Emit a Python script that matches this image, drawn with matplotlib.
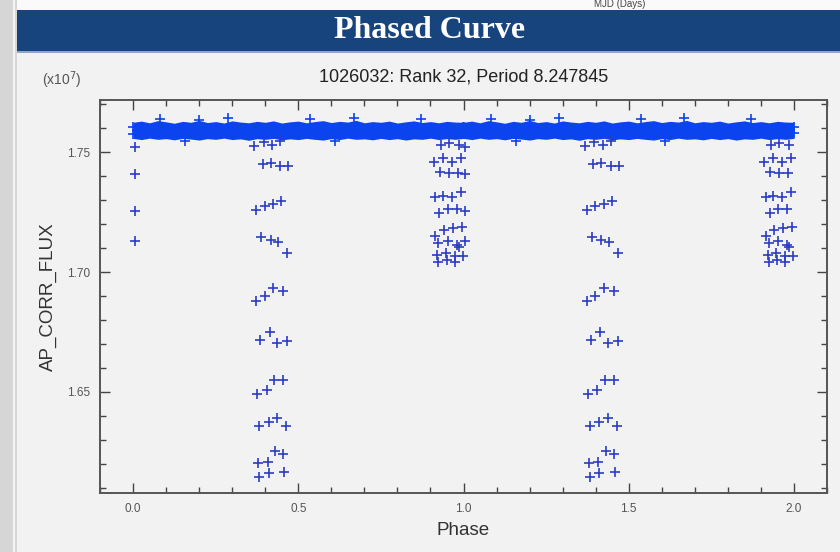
import matplotlib
matplotlib.use("Agg")

import matplotlib.pyplot as plt
from matplotlib.patches import Rectangle
from matplotlib.ticker import MultipleLocator, FormatStrFormatter

# flujo en unidades de 1e7, fase de un ciclo [0, 1) -> se dibuja dos veces
eclipse1_phase = [0.367, 0.395, 0.422, 0.446,
                  0.392, 0.416, 0.446, 0.470,
                  0.373, 0.398, 0.425, 0.449,
                  0.388, 0.416, 0.440, 0.467,
                  0.373, 0.398, 0.425, 0.455,
                  0.385, 0.413, 0.437, 0.467,
                  0.376, 0.404, 0.428, 0.455,
                  0.382, 0.410, 0.437, 0.464,
                  0.431, 0.455, 0.379, 0.407,
                  0.382, 0.410, 0.458]
eclipse1_flux = [1.7525, 1.7542, 1.7529, 1.7546,
                 1.7450, 1.7454, 1.7442, 1.7442,
                 1.7258, 1.7275, 1.7283, 1.7296,
                 1.7146, 1.7133, 1.7125, 1.7079,
                 1.6879, 1.6900, 1.6933, 1.6921,
                 1.6717, 1.6750, 1.6704, 1.6713,
                 1.6492, 1.6508, 1.6550, 1.6550,
                 1.6358, 1.6375, 1.6392, 1.6358,
                 1.6254, 1.6242, 1.6204, 1.6208,
                 1.6146, 1.6163, 1.6167]

eclipse2_phase = [0.932, 0.956, 0.986,
                  0.910, 0.938, 0.965, 0.992,
                  0.929, 0.956, 0.983,
                  0.914, 0.938, 0.965, 0.992,
                  0.926, 0.953, 0.980,
                  0.914, 0.941, 0.968, 0.995,
                  0.923, 0.953, 0.980,
                  0.920, 0.947, 0.974, 0.998, 0.986,
                  0.923, 0.950, 0.974,
                  0.006, 0.006, 0.006, 0.006]
eclipse2_flux = [1.7529, 1.7538, 1.7529,
                 1.7458, 1.7475, 1.7458, 1.7475,
                 1.7417, 1.7413, 1.7413,
                 1.7313, 1.7317, 1.7313, 1.7333,
                 1.7246, 1.7263, 1.7263,
                 1.7150, 1.7175, 1.7183, 1.7188,
                 1.7121, 1.7129, 1.7113,
                 1.7071, 1.7079, 1.7067, 1.7067, 1.7104,
                 1.7042, 1.7050, 1.7042,
                 1.7521, 1.7408, 1.7254, 1.7129]

# banda de puntos fuera de eclipse (envolvente)
band_phase = [0.0, 0.025, 0.05, 0.075, 0.10, 0.125, 0.15, 0.175, 0.20, 0.225,
              0.25, 0.275, 0.30, 0.325, 0.35, 0.375, 0.40, 0.425, 0.45, 0.475,
              0.50, 0.525, 0.55, 0.575, 0.60, 0.625, 0.65, 0.675, 0.70, 0.725,
              0.75, 0.775, 0.80, 0.825, 0.85, 0.875, 0.90, 0.925, 0.95, 0.975, 1.0]
band_hi = [1.7624, 1.7629, 1.7622, 1.7631, 1.7626, 1.7620, 1.7628, 1.7624, 1.7632, 1.7623,
           1.7627, 1.7621, 1.7630, 1.7625, 1.7622, 1.7628, 1.7624, 1.7630, 1.7621, 1.7626,
           1.7629, 1.7622, 1.7627, 1.7631, 1.7623, 1.7628, 1.7625, 1.7632, 1.7622, 1.7627,
           1.7624, 1.7629, 1.7621, 1.7626, 1.7630, 1.7623, 1.7627, 1.7622, 1.7628, 1.7625, 1.7624]
band_lo = [1.7557, 1.7552, 1.7558, 1.7553, 1.7556, 1.7551, 1.7557, 1.7554, 1.7550, 1.7556,
           1.7553, 1.7558, 1.7552, 1.7555, 1.7549, 1.7556, 1.7553, 1.7557, 1.7551, 1.7555,
           1.7552, 1.7557, 1.7553, 1.7550, 1.7556, 1.7552, 1.7558, 1.7553, 1.7555, 1.7551,
           1.7557, 1.7552, 1.7556, 1.7550, 1.7555, 1.7553, 1.7558, 1.7552, 1.7556, 1.7553, 1.7557]

spike_phase = [0.082, 0.200, 0.288, 0.537, 0.668, 0.871, 0.158, 0.610,
               0.001, 0.001, 0.999, 0.999]
spike_flux = [1.7638, 1.7635, 1.7643, 1.7636, 1.7641, 1.7637, 1.7545, 1.7547,
              1.7605, 1.7575, 1.7605, 1.7578]

title = "1026032: Rank 32, Period 8.247845"

W, H = 840, 552
fig = plt.figure(figsize=(8.4, 5.52), dpi=100, facecolor="#f2f2f2")

def px(x0, y0, x1, y1, **kw):
    # rectangulo en pixeles (origen arriba a la izquierda)
    r = Rectangle((x0 / W, 1 - y1 / H), (x1 - x0) / W, (y1 - y0) / H,
                  transform=fig.transFigure, **kw)
    fig.patches.append(r)

# marco de la pagina
px(0, 0, 17, H, facecolor="#d6d6d6", edgecolor="none")
px(13, 0, 15, H, facecolor="#f4f4f4", edgecolor="none")
px(17, 0, W, 10, facecolor="#fafafa", edgecolor="none")
px(17, 10, W, 53, facecolor="#18447e", edgecolor="none")
px(17, 51, W, 53, facecolor="#8fa6c6", edgecolor="none")
fig.text(620 / W, 1 - 9 / H, "MJD (Days)", fontsize=7, color="#444",
         ha="center", va="bottom", family="Liberation Sans")
fig.text(430 / W, 1 - 31 / H, "Phased Curve", fontsize=23, color="white",
         ha="center", va="center", family="Liberation Serif", weight="bold")

ax = fig.add_axes([100 / W, 1 - 493 / H, 727 / W, 393 / H], facecolor="#f2f2f2")

blue = "#2c3cc4"
for shift in (0, 1):
    ph = [p + shift for p in band_phase]
    ax.fill_between(ph, band_lo, band_hi, color="#0b44ee", lw=0, zorder=2)
    for phs, fl in ((eclipse1_phase, eclipse1_flux), (eclipse2_phase, eclipse2_flux)):
        pts = [(p + shift, f) for p, f in zip(phs, fl) if p + shift <= 2.0]
        ax.plot([p for p, _ in pts], [f for _, f in pts], "+", color=blue,
                ms=7, mew=1.2, zorder=3)
    ax.plot([p + shift for p in spike_phase], spike_flux, "+", color="#0b44ee",
            ms=7, mew=1.2, zorder=2)

ax.set_xlim(-0.1, 2.1)
ax.set_ylim(1.6079, 1.7717)
ax.xaxis.set_major_locator(MultipleLocator(0.5))
ax.xaxis.set_minor_locator(MultipleLocator(0.1))
ax.yaxis.set_major_locator(MultipleLocator(0.05))
ax.yaxis.set_minor_locator(MultipleLocator(0.01))
ax.xaxis.set_major_formatter(FormatStrFormatter("%.1f"))
ax.yaxis.set_major_formatter(FormatStrFormatter("%.2f"))
ax.tick_params(which="both", direction="in", top=True, right=True, color="#444",
               width=1.0, labelsize=8.5, labelcolor="#555")
ax.tick_params(which="major", length=7, pad=7)
ax.tick_params(which="minor", length=4.5)
for s in ax.spines.values():
    s.set_linewidth(1.4)
    s.set_color("#555")

for t in ax.get_xticklabels() + ax.get_yticklabels():
    t.set_family("Liberation Sans")

ax.set_xlabel("Phase", fontsize=13.5, color="#333", family="Liberation Sans", labelpad=5)
ax.set_ylabel("AP_CORR_FLUX", fontsize=13.5, color="#333", family="Liberation Sans", labelpad=7)
ax.set_title(title, fontsize=13, color="#222", family="Liberation Sans", pad=13)
fig.text(62 / W, 1 - 80 / H, r"(x10$^7$)", fontsize=10, color="#555",
         ha="center", va="center", family="Liberation Sans")

fig.savefig("out.png", dpi=100, facecolor=fig.get_facecolor())
